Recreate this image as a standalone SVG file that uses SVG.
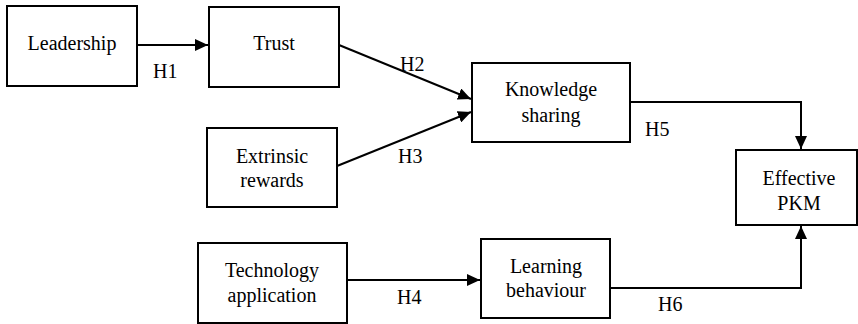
<svg xmlns="http://www.w3.org/2000/svg" width="858" height="324" viewBox="0 0 858 324">
<defs>
<marker id="ah" markerUnits="userSpaceOnUse" markerWidth="14" markerHeight="12" refX="13" refY="6" orient="auto">
<path d="M0,0 L13,6 L0,12 Z" fill="#000"/>
</marker>
</defs>
<rect width="858" height="324" fill="#fff"/>
<g id="connectors" fill="none" stroke="#000" stroke-width="2">
<path d="M137,45 L208,45" marker-end="url(#ah)"/>
<path d="M339,45 L471,99" marker-end="url(#ah)"/>
<path d="M337,166 L471,112" marker-end="url(#ah)"/>
<path d="M630,102 L801,102 L801,149" marker-end="url(#ah)"/>
<path d="M347,280 L480,280" marker-end="url(#ah)"/>
<path d="M610,288 L801,288 L801,226" marker-end="url(#ah)"/>
</g>
<g id="labels">
<text x="153" y="78" style="font-family:'Liberation Serif','Times New Roman',serif;font-size:20px">H1</text>
<text x="400" y="71" style="font-family:'Liberation Serif','Times New Roman',serif;font-size:20px">H2</text>
<text x="398" y="163" style="font-family:'Liberation Serif','Times New Roman',serif;font-size:20px">H3</text>
<text x="397" y="304" style="font-family:'Liberation Serif','Times New Roman',serif;font-size:20px">H4</text>
<text x="645" y="136" style="font-family:'Liberation Serif','Times New Roman',serif;font-size:20px">H5</text>
<text x="658" y="311" style="font-family:'Liberation Serif','Times New Roman',serif;font-size:20px">H6</text>
</g>
<g id="leadership"><rect x="7" y="6" width="130" height="80" fill="#fff" stroke="#000" stroke-width="2"/><text x="72" y="50" text-anchor="middle" style="font-family:'Liberation Serif','Times New Roman',serif;font-size:20px">Leadership</text></g>
<g id="trust"><rect x="209" y="7" width="130" height="80" fill="#fff" stroke="#000" stroke-width="2"/><text x="274" y="50" text-anchor="middle" style="font-family:'Liberation Serif','Times New Roman',serif;font-size:20px">Trust</text></g>
<g id="extrinsic"><rect x="207" y="128" width="130" height="79" fill="#fff" stroke="#000" stroke-width="2"/><text x="272" y="163" text-anchor="middle" style="font-family:'Liberation Serif','Times New Roman',serif;font-size:20px">Extrinsic</text><text x="272" y="187" text-anchor="middle" style="font-family:'Liberation Serif','Times New Roman',serif;font-size:20px">rewards</text></g>
<g id="knowledge"><rect x="472" y="63" width="158" height="79" fill="#fff" stroke="#000" stroke-width="2"/><text x="551" y="96" text-anchor="middle" style="font-family:'Liberation Serif','Times New Roman',serif;font-size:20px">Knowledge</text><text x="551" y="122" text-anchor="middle" style="font-family:'Liberation Serif','Times New Roman',serif;font-size:20px">sharing</text></g>
<g id="pkm"><rect x="736" y="150" width="121" height="75" fill="#fff" stroke="#000" stroke-width="2"/><text x="799" y="185" text-anchor="middle" style="font-family:'Liberation Serif','Times New Roman',serif;font-size:20px">Effective</text><text x="799" y="210" text-anchor="middle" style="font-family:'Liberation Serif','Times New Roman',serif;font-size:20px">PKM</text></g>
<g id="technology"><rect x="198" y="243" width="149" height="80" fill="#fff" stroke="#000" stroke-width="2"/><text x="272" y="277" text-anchor="middle" style="font-family:'Liberation Serif','Times New Roman',serif;font-size:20px">Technology</text><text x="272" y="302" text-anchor="middle" style="font-family:'Liberation Serif','Times New Roman',serif;font-size:20px">application</text></g>
<g id="learning"><rect x="481" y="239" width="129" height="79" fill="#fff" stroke="#000" stroke-width="2"/><text x="546" y="273" text-anchor="middle" style="font-family:'Liberation Serif','Times New Roman',serif;font-size:20px">Learning</text><text x="546" y="297" text-anchor="middle" style="font-family:'Liberation Serif','Times New Roman',serif;font-size:20px">behaviour</text></g>
</svg>
